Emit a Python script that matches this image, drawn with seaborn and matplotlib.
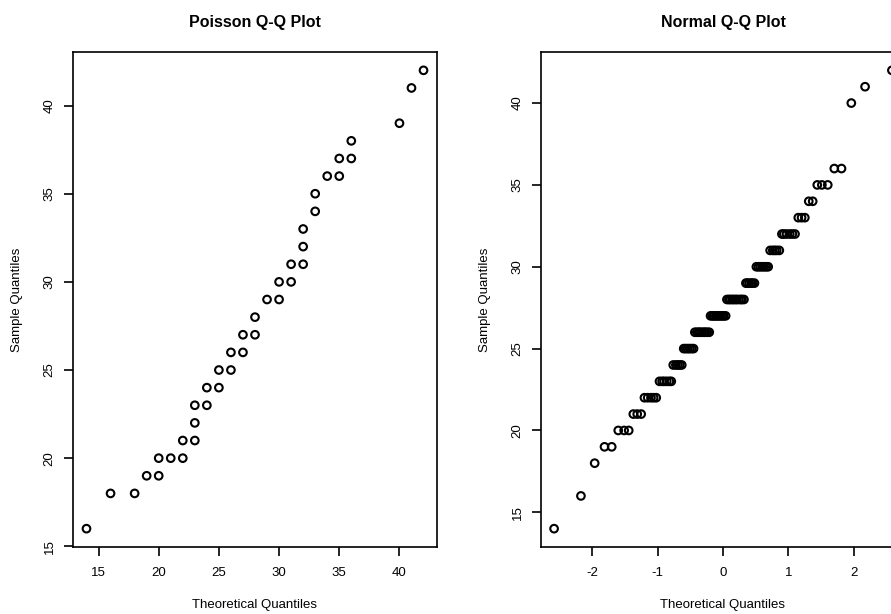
import numpy as np
import matplotlib
matplotlib.use("Agg")
import matplotlib.pyplot as plt
import seaborn as sns

# Poisson Q-Q plot: distinct (theoretical, sample) pairs
pois_theoretical = [14, 16, 18, 19, 20, 20, 21, 22, 22, 23, 23, 23, 24, 24, 25, 25, 26, 26, 27, 27,
                    28, 28, 29, 30, 30, 31, 31, 32, 32, 32, 33, 33, 34, 35, 35, 36, 36, 40, 41, 42]
pois_sample = [16, 18, 18, 19, 19, 20, 20, 20, 21, 21, 22, 23, 23, 24, 24, 25, 25, 26, 26, 27,
               27, 28, 29, 29, 30, 30, 31, 31, 32, 33, 34, 35, 36, 36, 37, 37, 38, 39, 41, 42]

# Normal Q-Q plot: sample values and how many times each appears (n = 100)
sample_values = [14, 16, 18, 19, 20, 21, 22, 23, 24, 25, 26, 27, 28, 29, 30, 31, 32, 33, 34, 35, 36, 40, 41, 42]
sample_counts = [1, 1, 1, 2, 3, 3, 5, 6, 5, 6, 9, 10, 11, 6, 7, 5, 6, 3, 2, 3, 2, 1, 1, 1]

# theoretical normal quantiles along the x axis
norm_theoretical = [
    -2.58, -2.17, -1.96, -1.81, -1.70, -1.60, -1.51, -1.44, -1.37, -1.31,
    -1.25, -1.20, -1.15, -1.10, -1.06, -1.02, -0.97, -0.93, -0.90, -0.86,
    -0.82, -0.79, -0.76, -0.72, -0.69, -0.66, -0.63, -0.60, -0.57, -0.54,
    -0.51, -0.48, -0.45, -0.43, -0.40, -0.37, -0.35, -0.32, -0.29, -0.27,
    -0.24, -0.21, -0.19, -0.16, -0.14, -0.11, -0.09, -0.06, -0.04, -0.01,
    0.01, 0.04, 0.06, 0.09, 0.11, 0.14, 0.16, 0.19, 0.21, 0.24,
    0.27, 0.29, 0.32, 0.35, 0.37, 0.40, 0.43, 0.45, 0.48, 0.51,
    0.54, 0.57, 0.60, 0.63, 0.66, 0.69, 0.72, 0.76, 0.79, 0.82,
    0.86, 0.90, 0.93, 0.97, 1.02, 1.06, 1.10, 1.15, 1.20, 1.25,
    1.31, 1.37, 1.44, 1.51, 1.60, 1.70, 1.81, 1.96, 2.17, 2.58,
]

sns.set_style("ticks")
plt.rcParams['font.family'] = ['Liberation Sans', 'DejaVu Sans']
plt.rcParams['axes.linewidth'] = 1.2
plt.rcParams['xtick.major.width'] = 1.2
plt.rcParams['ytick.major.width'] = 1.2
plt.rcParams['xtick.major.size'] = 6.5
plt.rcParams['ytick.major.size'] = 6.5
plt.rcParams['xtick.major.pad'] = 8
plt.rcParams['ytick.major.pad'] = 6
plt.rcParams['xtick.color'] = 'black'
plt.rcParams['ytick.color'] = 'black'
plt.rcParams['axes.edgecolor'] = 'black'
plt.rcParams['text.color'] = 'black'
plt.rcParams['axes.labelcolor'] = 'black'

fig = plt.figure(figsize=(8.91, 6.14), dpi=100)
W, H = 891, 614
ax1 = fig.add_axes([73 / W, (H - 547) / H, 364 / W, 495 / H])
ax2 = fig.add_axes([541 / W, (H - 547) / H, 364 / W, 495 / H])

norm_sample = np.repeat(sample_values, sample_counts)

def draw(ax, x, y, title, xlim, ylim, xticks, yticks):
    sns.scatterplot(x=x, y=y, ax=ax, marker='o', s=30, facecolors='none',
                    edgecolor='black', linewidth=1.5)
    ax.set_xlim(*xlim)
    ax.set_ylim(*ylim)
    ax.set_xticks(xticks)
    ax.set_yticks(yticks)
    ax.set_xticklabels([str(t) for t in xticks], fontsize=9.5)
    ax.set_yticklabels([str(t) for t in yticks], fontsize=9.5, rotation=90, va='center')
    ax.set_title(title, fontsize=11.5, fontweight='bold', pad=18, color='black')
    ax.set_xlabel('Theoretical Quantiles', fontsize=9.5)
    ax.set_ylabel('Sample Quantiles', fontsize=9.5)
    ax.xaxis.set_label_coords(0.5, -0.105)
    ax.yaxis.set_label_coords(-0.138, 0.5)
    for s in ax.spines.values():
        s.set_visible(True)

draw(ax1, pois_theoretical, pois_sample, 'Poisson Q-Q Plot',
     (12.88, 43.12), (14.96, 43.04), [15, 20, 25, 30, 35, 40], [15, 20, 25, 30, 35, 40])
draw(ax2, norm_theoretical, norm_sample, 'Normal Q-Q Plot',
     (-2.78, 2.78), (12.88, 43.12), [-2, -1, 0, 1, 2], [15, 20, 25, 30, 35, 40])

fig.savefig('out.png', dpi=100)
